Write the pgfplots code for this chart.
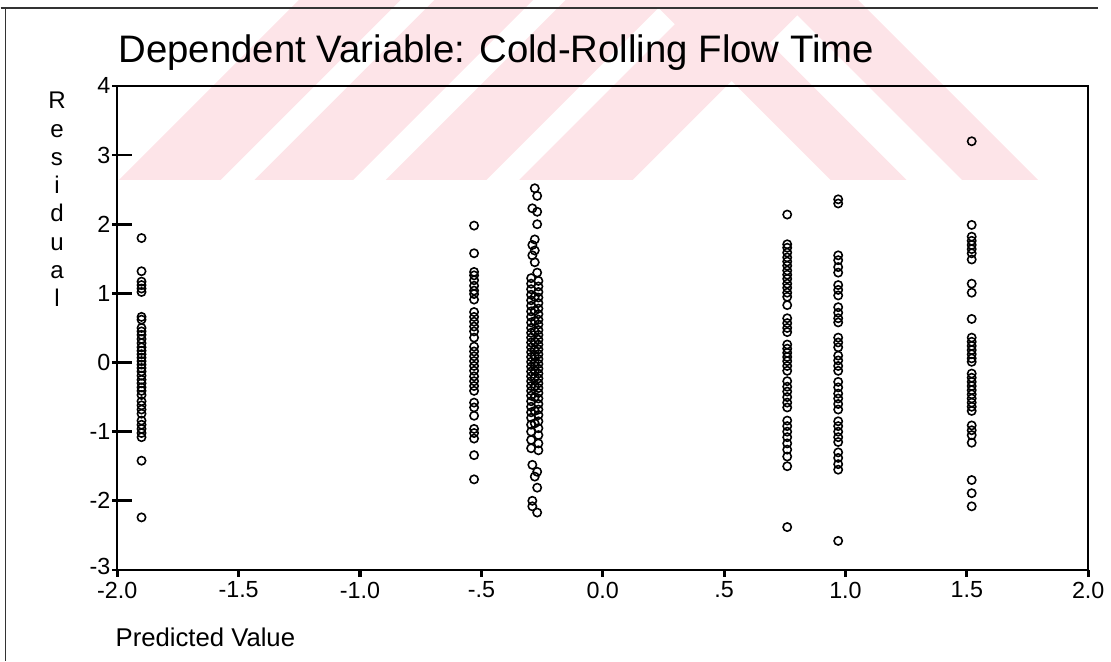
\documentclass[border=0pt]{standalone}
\usepackage{pgfplots}
\pgfplotsset{compat=1.18}
\usepackage{fontspec}
\setmainfont{Liberation Sans}
\definecolor{wmark}{RGB}{253,228,232}

\begin{document}
\begin{tikzpicture}
% picture frame in pixel units of the reference (y downwards)
\begin{scope}[x=0.5pt,y=-0.5pt,shift={(-59pt,288.5pt)}]
  \useasboundingbox (0,0) rectangle (1111,669);
  \begin{scope}
    \clip (0,0) rectangle (1111,182);
    \fill[wmark] (120,182) -- (223,182) -- (405,0) -- (302,0) -- cycle;
    \fill[wmark] (257,182) -- (357,182) -- (539,0) -- (439,0) -- cycle;
    \fill[wmark] (390,182) -- (492,182) -- (674,0) -- (572,0) -- cycle;
    \fill[wmark] (525,182) -- (640,182) -- (822,0) -- (707,0) -- cycle;
    \fill[wmark] (840,182) -- (917,182) -- (735,0) -- (658,0) -- cycle;
    \fill[wmark] (973,182) -- (1050,182) -- (868,0) -- (791,0) -- cycle;
  \end{scope}
\end{scope}

\begin{axis}[
    scale only axis,
    width=491.5pt, height=245pt,
    xmin=-2, xmax=2, ymin=-3, ymax=4,
    axis line style={line width=0.9pt},
    xtick={-2,-1.5,-1,-0.5,0,0.5,1,1.5,2},
    xticklabels={\mbox{-2.0},\mbox{-1.5},\mbox{-1.0},\mbox{-.5},\mbox{0.0},\mbox{.5},\mbox{1.0},\mbox{1.5},\mbox{2.0}},
    ytick={-3,-2,-1,0,1,2,3,4},
    yticklabels={\mbox{\raisebox{4pt}{-3}},\mbox{-2},\mbox{-1},\mbox{0},\mbox{1},\mbox{2},\mbox{3},\mbox{4}},
    tick pos=left,
    tick align=inside,
    major tick length=10pt,
    xtick style={draw=none},
    ytick style={black, xshift=-2.5pt, line width=1.4pt},
    tick label style={font=\fontsize{11.8}{12}\selectfont},
    xticklabel style={yshift=-2.5pt},
    clip=false,
]
\pgfplotsinvokeforeach{-2,-1.5,-1,-0.5,0,0.5,1,1.5,2}{
  \draw[black, line width=1.6pt] (axis cs:#1,-3) -- ++(0pt,-3.5pt);
}
\addplot[only marks, mark=o, mark size=2.1pt, mark options={line width=0.8pt}, black] coordinates {
% predicted -1.90
(-1.90,1.80) (-1.90,1.32) (-1.90,1.17) (-1.90,1.12) (-1.90,1.07) (-1.90,1.02)
(-1.90,0.66) (-1.90,0.62) (-1.90,0.50) (-1.90,0.45) (-1.90,0.40) (-1.90,0.34)
(-1.90,0.28) (-1.90,0.22) (-1.90,0.17) (-1.90,0.12) (-1.90,0.07) (-1.90,0.02)
(-1.90,-0.03) (-1.90,-0.08) (-1.90,-0.13) (-1.90,-0.19) (-1.90,-0.25) (-1.90,-0.30)
(-1.90,-0.36) (-1.90,-0.41) (-1.90,-0.47) (-1.90,-0.56) (-1.90,-0.62) (-1.90,-0.68)
(-1.90,-0.74) (-1.90,-0.84) (-1.90,-0.90) (-1.90,-0.96) (-1.90,-1.02) (-1.90,-1.08)
(-1.90,-1.42) (-1.90,-2.24)
% predicted -0.53
(-0.53,1.98) (-0.53,1.58) (-0.53,1.31) (-0.53,1.26) (-0.53,1.19) (-0.53,1.11)
(-0.53,1.04) (-0.53,0.99) (-0.53,0.91) (-0.53,0.73) (-0.53,0.66) (-0.53,0.59)
(-0.53,0.52) (-0.53,0.45) (-0.53,0.36) (-0.53,0.23) (-0.53,0.16) (-0.53,0.09)
(-0.53,0.02) (-0.53,-0.05) (-0.53,-0.12) (-0.53,-0.20) (-0.53,-0.27) (-0.53,-0.34)
(-0.53,-0.41) (-0.53,-0.58) (-0.53,-0.65) (-0.53,-0.77) (-0.53,-0.96) (-0.53,-1.02)
(-0.53,-1.10) (-0.53,-1.34) (-0.53,-1.69)
% predicted about -0.28
(-0.28,2.52) (-0.27,2.41) (-0.29,2.23) (-0.27,2.18) (-0.27,2.00) (-0.28,1.78)
(-0.29,1.70) (-0.28,1.62) (-0.29,1.55) (-0.28,1.45) (-0.27,1.30)
(-0.295,1.22) (-0.295,1.14) (-0.295,1.06) (-0.295,0.98) (-0.295,0.90) (-0.295,0.82)
(-0.295,0.74) (-0.295,0.66) (-0.295,0.58) (-0.295,0.50) (-0.295,0.43) (-0.295,0.36)
(-0.295,0.29) (-0.295,0.22) (-0.295,0.15) (-0.295,0.08) (-0.295,0.01) (-0.295,-0.06)
(-0.295,-0.13) (-0.295,-0.20) (-0.295,-0.27) (-0.295,-0.34) (-0.295,-0.41) (-0.295,-0.48)
(-0.295,-0.56) (-0.295,-0.64) (-0.295,-0.72) (-0.295,-0.80) (-0.295,-0.90) (-0.295,-1.00)
(-0.295,-1.12) (-0.295,-1.24)
(-0.265,1.18) (-0.265,1.10) (-0.265,1.02) (-0.265,0.94) (-0.265,0.86) (-0.265,0.78)
(-0.265,0.70) (-0.265,0.62) (-0.265,0.55) (-0.265,0.47) (-0.265,0.40) (-0.265,0.33)
(-0.265,0.26) (-0.265,0.19) (-0.265,0.12) (-0.265,0.05) (-0.265,-0.02) (-0.265,-0.09)
(-0.265,-0.16) (-0.265,-0.23) (-0.265,-0.30) (-0.265,-0.37) (-0.265,-0.44) (-0.265,-0.52)
(-0.265,-0.60) (-0.265,-0.68) (-0.265,-0.76) (-0.265,-0.85) (-0.265,-0.95) (-0.265,-1.05)
(-0.265,-1.17) (-0.265,-1.27)
(-0.28,0.95) (-0.28,0.75) (-0.28,0.60) (-0.28,0.45) (-0.28,0.30) (-0.28,0.18)
(-0.28,0.10) (-0.28,0.00) (-0.28,-0.05) (-0.28,-0.12) (-0.28,-0.22) (-0.28,-0.35)
(-0.28,-0.50) (-0.28,-0.70) (-0.28,-0.88)
(-0.29,-1.48) (-0.27,-1.58) (-0.28,-1.65) (-0.27,-1.81) (-0.29,-2.00) (-0.29,-2.08)
(-0.27,-2.17)
% predicted 0.76
(0.76,2.14) (0.76,1.71) (0.76,1.66) (0.76,1.59) (0.76,1.52) (0.76,1.46)
(0.76,1.40) (0.76,1.33) (0.76,1.27) (0.76,1.21) (0.76,1.14) (0.76,1.08)
(0.76,1.01) (0.76,0.95) (0.76,0.83) (0.76,0.64) (0.76,0.57) (0.76,0.50)
(0.76,0.44) (0.76,0.26) (0.76,0.20) (0.76,0.14) (0.76,0.08) (0.76,0.02)
(0.76,-0.05) (0.76,-0.12) (0.76,-0.27) (0.76,-0.35) (0.76,-0.42) (0.76,-0.50)
(0.76,-0.58) (0.76,-0.65) (0.76,-0.84) (0.76,-0.92) (0.76,-1.00) (0.76,-1.08)
(0.76,-1.17) (0.76,-1.26) (0.76,-1.36) (0.76,-1.50) (0.76,-2.38)
% predicted 0.97
(0.97,2.36) (0.97,2.30) (0.97,1.55) (0.97,1.48) (0.97,1.38) (0.97,1.30)
(0.97,1.12) (0.97,1.05) (0.97,0.97) (0.97,0.80) (0.97,0.72) (0.97,0.64)
(0.97,0.58) (0.97,0.36) (0.97,0.29) (0.97,0.22) (0.97,0.10) (0.97,0.03)
(0.97,-0.05) (0.97,-0.12) (0.97,-0.28) (0.97,-0.36) (0.97,-0.45) (0.97,-0.52)
(0.97,-0.60) (0.97,-0.68) (0.97,-0.85) (0.97,-0.92) (0.97,-1.00) (0.97,-1.08)
(0.97,-1.15) (0.97,-1.30) (0.97,-1.38) (0.97,-1.47) (0.97,-1.55) (0.97,-2.58)
% predicted 1.52
(1.52,3.20) (1.52,1.99) (1.52,1.82) (1.52,1.76) (1.52,1.70) (1.52,1.64)
(1.52,1.58) (1.52,1.49) (1.52,1.14) (1.52,1.01) (1.52,0.63) (1.52,0.36)
(1.52,0.30) (1.52,0.24) (1.52,0.18) (1.52,0.12) (1.52,0.06) (1.52,0.01)
(1.52,-0.16) (1.52,-0.22) (1.52,-0.28) (1.52,-0.34) (1.52,-0.40) (1.52,-0.46)
(1.52,-0.52) (1.52,-0.58) (1.52,-0.64) (1.52,-0.70) (1.52,-0.91) (1.52,-0.98)
(1.52,-1.05) (1.52,-1.16) (1.52,-1.70) (1.52,-1.89) (1.52,-2.08)
};
\end{axis}

\begin{scope}[x=0.5pt,y=-0.5pt,shift={(-59pt,288.5pt)}]
  \draw[line width=0.7pt, black!80] (0,8) -- (1111,8);
  \draw[line width=0.7pt, black!80] (5,8) -- (5,669);
  \node[anchor=base west, inner sep=0, font=\fontsize{19.4}{22}\selectfont] at (119,63) {Dependent Variable: Cold-Rolling Flow Time};
  \node[anchor=north, align=center, inner sep=0, font=\fontsize{12.2}{14.3}\selectfont] at (57,93) {R\\e\\s\\i\\d\\u\\a\\l};
  \node[anchor=base west, inner sep=0, font=\fontsize{13}{15}\selectfont] at (116,654) {Predicted Value};
\end{scope}
\end{tikzpicture}
\end{document}
